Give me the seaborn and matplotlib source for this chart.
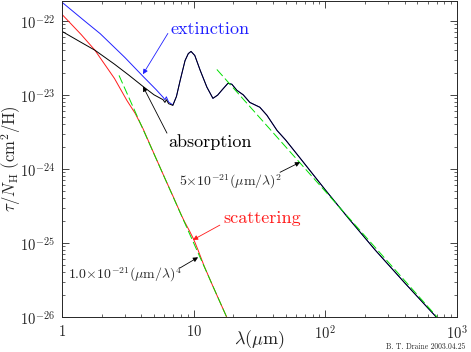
"""Dust extinction per H nucleon: absorption, scattering and total (Draine 2003)."""
import matplotlib
import matplotlib.pyplot as plt
import numpy as np
import seaborn as sns
from matplotlib.ticker import LogLocator, FixedLocator, FuncFormatter, NullFormatter

matplotlib.use('Agg')

# wavelength grid (um) and values, in cm^2/H
lam_abs = [1.0, 1.4, 1.78, 2.5, 3.2, 4.12, 5.0, 5.85, 6.05, 6.2, 6.45, 6.95,
           7.4, 7.9, 8.6, 9.1, 9.55, 10.2, 11.2, 12.6, 14.0, 15.2, 16.4, 18.2,
           19.5, 21.3, 23.8, 26.7, 31.8, 36.0, 43.0, 50.0, 64.3, 100.0, 150.0,
           238.0, 400.0, 695.0, 800.0]
absorption = [7.2e-23, 5.1e-23, 4.0e-23, 2.6e-23, 1.86e-23, 1.30e-23, 1.0e-23,
              8.6e-24, 7.9e-24, 8.6e-24, 7.6e-24, 7.2e-24,
              9.5e-24, 1.57e-23, 2.9e-23, 3.6e-23, 3.86e-23, 3.4e-23, 2.15e-23,
              1.27e-23, 8.97e-24, 9.9e-24, 1.16e-23, 1.43e-23,
              1.39e-23, 1.15e-23, 1.0e-23, 7.9e-24, 6.8e-24, 5.3e-24, 3.3e-24,
              2.45e-24, 1.40e-24, 5.2e-25, 2.15e-25,
              8.1e-26, 2.9e-26, 1.0e-26, 7.5e-27]

lam_ext = [1.0, 1.5, 1.95, 3.0, 4.12, 5.2, 5.85, 6.05, 6.2, 6.45, 6.95,
           7.4, 7.9, 8.6, 9.1, 9.55, 10.2, 11.2, 12.6, 14.0, 15.2, 16.4, 18.2,
           19.5, 21.3, 23.8, 26.7, 31.8, 36.0, 43.0, 50.0, 64.3, 100.0, 150.0,
           238.0, 400.0, 695.0, 800.0]
extinction = [1.78e-22, 9.8e-23, 6.7e-23, 3.2e-23, 1.78e-23, 1.17e-23, 9.3e-24,
              8.6e-24, 9.4e-24, 8.0e-24, 7.3e-24,
              9.5e-24, 1.57e-23, 2.9e-23, 3.6e-23, 3.86e-23, 3.4e-23, 2.15e-23,
              1.27e-23, 8.97e-24, 9.9e-24, 1.16e-23, 1.43e-23,
              1.39e-23, 1.15e-23, 1.0e-23, 7.9e-24, 6.8e-24, 5.3e-24, 3.3e-24,
              2.45e-24, 1.40e-24, 5.2e-25, 2.15e-25,
              8.1e-26, 2.9e-26, 1.0e-26, 7.5e-27]

lam_sca = [1.0, 1.4, 1.78, 1.94, 2.5, 3.11, 3.6, 4.12, 5.0, 6.0, 7.0, 8.0,
           8.5, 9.3, 10.0, 10.8, 12.0, 14.0, 17.8, 20.0]
scattering = [1.22e-22, 6.5e-23, 4.0e-23, 3.2e-23, 1.67e-23, 8.4e-24, 5.6e-24,
              3.5e-24, 1.6e-24, 7.7e-25, 4.2e-25, 2.45e-25,
              1.95e-25, 1.45e-25, 1.12e-25, 0.80e-25, 4.9e-26, 2.6e-26,
              1.0e-26, 6.2e-27]

# power-law guide lines (end points)
lam_pl4 = [2.71, 17.8]
val_pl4 = [1.83e-23, 1.0e-26]
lam_pl2 = [15.0, 706.0]
val_pl2 = [2.2e-23, 1.0e-26]

x_ticks = [1, 10, 100, 1000]
y_ticks = [1e-26, 1e-25, 1e-24, 1e-23, 1e-22]

BLUE = '#2020ff'
RED = '#ff1a1a'
GREEN = '#00e000'

sns.set_style('ticks')
plt.rcParams.update({
    'font.family': ['cmr10', 'DejaVu Serif'],
    'mathtext.fontset': 'cm',
    'axes.formatter.use_mathtext': True,
    'axes.linewidth': 0.7,
    'xtick.direction': 'in',
    'ytick.direction': 'in',
    'xtick.top': True,
    'ytick.right': True,
})

fig = plt.figure(figsize=(4.71, 3.52), dpi=100)
ax = fig.add_axes([62 / 471, 1 - 317 / 352, 395 / 471, 316 / 352])

sns.lineplot(x=lam_ext, y=extinction, ax=ax, color=BLUE, lw=0.7)
sns.lineplot(x=lam_sca, y=scattering, ax=ax, color=RED, lw=0.7)
sns.lineplot(x=lam_abs, y=absorption, ax=ax, color='black', lw=0.7)
for lx, ly in [(lam_pl4, val_pl4), (lam_pl2, val_pl2)]:
    sns.lineplot(x=lx, y=ly, ax=ax, color=GREEN, lw=0.7,
                 linestyle=(0, (9, 3.5)))

ax.set_xscale('log')
ax.set_yscale('log')
ax.set_xlim(1, 1000)
ax.set_ylim(1e-26, 1.85e-22)


def log_label(v, pos):
    n = int(round(np.log10(v)))
    if n == 0:
        return r'$1$'
    if n == 1:
        return r'$10$'
    return r'$10^{%d}$' % n


for axis, ticks in ((ax.xaxis, x_ticks), (ax.yaxis, y_ticks)):
    axis.set_major_locator(FixedLocator(ticks))
    axis.set_minor_locator(LogLocator(base=10, subs=range(2, 10), numticks=20))
    axis.set_major_formatter(FuncFormatter(log_label))
    axis.set_minor_formatter(NullFormatter())
ax.tick_params(which='major', length=5, width=0.6, labelsize=10.5)
ax.tick_params(which='minor', length=2.5, width=0.5)
ax.tick_params(axis='y', pad=5)
ax.tick_params(axis='x', pad=5)

ax.set_xlabel(r'$\lambda(\mu{\rm m})$', fontsize=13, va='center')
ax.xaxis.set_label_coords(0.5, -0.073)
ax.set_ylabel(r'$\tau/N_{\rm H}\ ({\rm cm}^2/{\rm H})$', fontsize=12, va='center')
ax.yaxis.set_label_coords(-0.128, 0.5)

# annotations
arrow = dict(arrowstyle='-|>', lw=0.6, mutation_scale=7, shrinkA=0, shrinkB=0)
ax.text(13.3, 7.6e-23, 'extinction', color=BLUE, fontsize=13,
        ha='center', va='center')
ax.annotate('', xy=(4.12, 1.9e-23), xytext=(6.37, 6.75e-23),
            arrowprops=dict(arrow, color=BLUE))
ax.text(13.3, 2.29e-24, 'absorption', color='black', fontsize=13,
        ha='center', va='center')
ax.annotate('', xy=(4.12, 1.30e-23), xytext=(6.27, 3.04e-24),
            arrowprops=dict(arrow, color='black'))
ax.text(33.0, 2.17e-25, 'scattering', color=RED, fontsize=13,
        ha='center', va='center')
ax.annotate('', xy=(9.87, 1.10e-25), xytext=(15.8, 1.74e-25),
            arrowprops=dict(arrow, color=RED))
ax.text(19.2, 6.7e-25, r'$5{\times}10^{-21}(\mu{\rm m}/\lambda)^2$',
        fontsize=10, ha='center', va='center')
ax.annotate('', xy=(64.3, 1.23e-24), xytext=(45.3, 9.0e-25),
            arrowprops=dict(arrow, color='black'))
ax.text(3.01, 3.7e-26, r'$1.0{\times}10^{-21}(\mu{\rm m}/\lambda)^4$',
        fontsize=10, ha='center', va='center')
ax.annotate('', xy=(10.8, 6.4e-26), xytext=(7.88, 4.6e-26),
            arrowprops=dict(arrow, color='black'))

fig.text(465 / 471, 1 - 347 / 352, 'B. T. Draine 2003.04.25', fontsize=5.5,
         ha='right', va='center')

fig.savefig('out.png', dpi=100)
plt.close(fig)
